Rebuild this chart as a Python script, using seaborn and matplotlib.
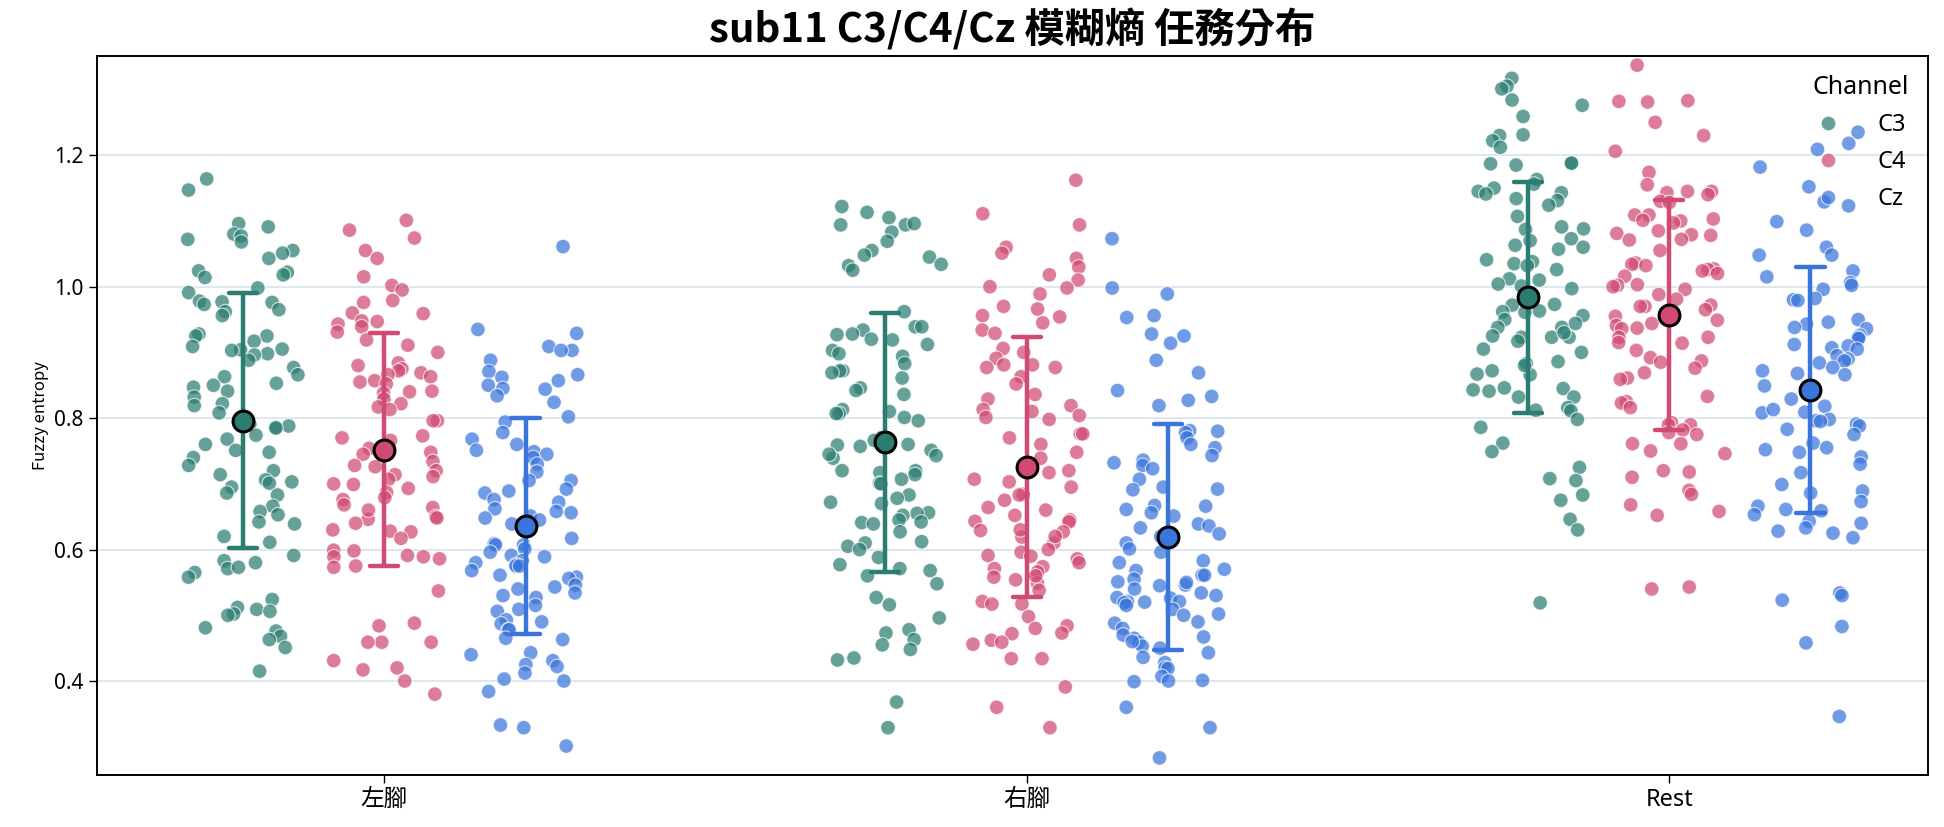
import numpy as np
import pandas as pd
import matplotlib
matplotlib.use("Agg")
import matplotlib.pyplot as plt
import seaborn as sns

# ---------------- data ----------------
tasks = ["左腳", "右腳", "Rest"]
channels = ["C3", "C4", "Cz"]

left_c3 = [1.164, 1.147, 1.096, 1.091, 1.080, 1.077, 1.072, 1.068, 1.055, 1.051, 1.043, 1.024,
           1.022, 1.018, 1.014, 0.998, 0.991, 0.978, 0.977, 0.973, 0.976, 0.965, 0.962, 0.956,
           0.928, 0.925, 0.925, 0.917, 0.909, 0.904, 0.903, 0.905, 0.898, 0.896, 0.888, 0.877,
           0.866, 0.863, 0.850, 0.853, 0.847, 0.841, 0.832, 0.822, 0.819, 0.808, 0.786, 0.788,
           0.785, 0.790, 0.774, 0.768, 0.760, 0.751, 0.748, 0.740, 0.728, 0.720, 0.714, 0.706,
           0.701, 0.703, 0.695, 0.686, 0.683, 0.666, 0.658, 0.653, 0.642, 0.639, 0.620, 0.611,
           0.591, 0.583, 0.580, 0.571, 0.573, 0.565, 0.558, 0.524, 0.512, 0.509, 0.506, 0.502,
           0.500, 0.481, 0.476, 0.468, 0.463, 0.451, 0.415]
left_c4 = [1.101, 1.086, 1.074, 1.055, 1.043, 1.015, 1.002, 0.995, 0.979, 0.976, 0.960, 0.959,
           0.948, 0.947, 0.943, 0.939, 0.931, 0.919, 0.911, 0.900, 0.884, 0.880, 0.875, 0.872,
           0.869, 0.866, 0.863, 0.857, 0.855, 0.852, 0.841, 0.840, 0.838, 0.829, 0.822, 0.817,
           0.813, 0.796, 0.796, 0.773, 0.770, 0.766, 0.754, 0.748, 0.745, 0.734, 0.728, 0.726,
           0.720, 0.714, 0.711, 0.707, 0.699, 0.693, 0.687, 0.679, 0.676, 0.668, 0.664, 0.650,
           0.648, 0.646, 0.630, 0.628, 0.627, 0.617, 0.599, 0.598, 0.591, 0.589, 0.589, 0.586,
           0.575, 0.573, 0.537, 0.488, 0.484, 0.459, 0.459, 0.459, 0.431, 0.420, 0.417, 0.400,
           0.380, 0.660, 0.640, 0.700]
left_cz = [1.061, 0.935, 0.929, 0.909, 0.903, 0.903, 0.888, 0.871, 0.866, 0.862, 0.857, 0.850,
           0.845, 0.844, 0.834, 0.824, 0.802, 0.794, 0.778, 0.768, 0.760, 0.751, 0.749, 0.745,
           0.740, 0.730, 0.718, 0.705, 0.705, 0.692, 0.689, 0.686, 0.676, 0.672, 0.662, 0.658,
           0.656, 0.651, 0.648, 0.645, 0.639, 0.617, 0.609, 0.607, 0.607, 0.601, 0.596, 0.591,
           0.589, 0.583, 0.580, 0.577, 0.575, 0.575, 0.568, 0.561, 0.558, 0.556, 0.546, 0.543,
           0.540, 0.534, 0.530, 0.527, 0.515, 0.509, 0.506, 0.493, 0.490, 0.487, 0.478, 0.478,
           0.465, 0.463, 0.443, 0.440, 0.431, 0.425, 0.422, 0.412, 0.403, 0.400, 0.384, 0.333,
           0.329, 0.301]
right_c3 = [1.122, 1.113, 1.105, 1.094, 1.094, 1.096, 1.083, 1.069, 1.055, 1.048, 1.045, 1.034,
            1.032, 1.025, 0.962, 0.939, 0.939, 0.934, 0.928, 0.927, 0.920, 0.919, 0.912, 0.903,
            0.898, 0.894, 0.883, 0.872, 0.872, 0.869, 0.861, 0.846, 0.842, 0.836, 0.813, 0.810,
            0.807, 0.807, 0.801, 0.796, 0.770, 0.766, 0.760, 0.759, 0.757, 0.751, 0.743, 0.739,
            0.745, 0.720, 0.717, 0.714, 0.707, 0.701, 0.683, 0.678, 0.672, 0.670, 0.656, 0.655,
            0.652, 0.645, 0.642, 0.641, 0.639, 0.627, 0.612, 0.610, 0.605, 0.600, 0.588, 0.577,
            0.571, 0.568, 0.560, 0.548, 0.527, 0.516, 0.496, 0.478, 0.473, 0.463, 0.455, 0.448,
            0.435, 0.432, 0.368, 0.329, 0.700, 0.720]
right_c4 = [1.162, 1.111, 1.094, 1.060, 1.051, 1.043, 1.030, 1.018, 1.010, 1.000, 0.998, 0.989,
            0.970, 0.966, 0.956, 0.954, 0.945, 0.934, 0.929, 0.906, 0.900, 0.891, 0.881, 0.881,
            0.877, 0.877, 0.863, 0.852, 0.836, 0.829, 0.819, 0.813, 0.810, 0.804, 0.801, 0.798,
            0.776, 0.776, 0.770, 0.760, 0.748, 0.739, 0.720, 0.717, 0.707, 0.703, 0.695, 0.684,
            0.683, 0.675, 0.664, 0.660, 0.652, 0.645, 0.643, 0.642, 0.629, 0.627, 0.619, 0.610,
            0.596, 0.591, 0.586, 0.574, 0.571, 0.566, 0.558, 0.554, 0.549, 0.538, 0.521, 0.517,
            0.517, 0.498, 0.484, 0.480, 0.473, 0.472, 0.462, 0.459, 0.456, 0.434, 0.434, 0.391,
            0.360, 0.329, 0.620, 0.600, 0.580, 0.560, 0.630, 0.590]
right_cz = [1.073, 0.998, 0.989, 0.956, 0.953, 0.928, 0.925, 0.914, 0.888, 0.869, 0.842, 0.833,
            0.827, 0.819, 0.781, 0.780, 0.778, 0.770, 0.760, 0.755, 0.743, 0.736, 0.732, 0.728,
            0.723, 0.707, 0.695, 0.692, 0.691, 0.667, 0.666, 0.661, 0.656, 0.651, 0.639, 0.636,
            0.633, 0.624, 0.620, 0.610, 0.601, 0.596, 0.583, 0.580, 0.568, 0.561, 0.561, 0.555,
            0.551, 0.546, 0.534, 0.527, 0.526, 0.521, 0.521, 0.519, 0.515, 0.509, 0.502, 0.488,
            0.480, 0.465, 0.467, 0.459, 0.453, 0.450, 0.443, 0.436, 0.428, 0.420, 0.419, 0.407,
            0.401, 0.399, 0.400, 0.360, 0.329, 0.283, 0.570, 0.550, 0.540, 0.530, 0.520, 0.500,
            0.490, 0.470, 0.460, 0.545]
rest_c3 = [1.317, 1.305, 1.301, 1.284, 1.276, 1.259, 1.231, 1.230, 1.222, 1.212, 1.188, 1.188,
           1.187, 1.185, 1.163, 1.156, 1.150, 1.145, 1.143, 1.141, 1.134, 1.131, 1.124, 1.107,
           1.091, 1.088, 1.087, 1.073, 1.070, 1.063, 1.060, 1.057, 1.041, 1.038, 1.035, 1.032,
           1.026, 1.012, 1.010, 1.004, 1.001, 0.997, 0.973, 0.972, 0.962, 0.963, 0.961, 0.956,
           0.950, 0.944, 0.938, 0.938, 0.923, 0.925, 0.923, 0.923, 0.917, 0.905, 0.886, 0.883,
           0.872, 0.867, 0.866, 0.846, 0.845, 0.841, 0.843, 0.832, 0.832, 0.816, 0.812, 0.811,
           0.798, 0.786, 0.762, 0.749, 0.725, 0.708, 0.705, 0.683, 0.675, 0.646, 0.630, 0.519,
           0.930, 0.900, 0.880]
rest_c4 = [1.337, 1.283, 1.282, 1.281, 1.250, 1.230, 1.206, 1.174, 1.155, 1.145, 1.145, 1.143,
           1.140, 1.130, 1.128, 1.109, 1.109, 1.103, 1.100, 1.101, 1.097, 1.085, 1.081, 1.079,
           1.078, 1.072, 1.071, 1.055, 1.036, 1.034, 1.032, 1.027, 1.026, 1.024, 1.020, 1.016,
           1.003, 1.002, 1.000, 0.996, 0.988, 0.981, 0.972, 0.970, 0.970, 0.965, 0.955, 0.949,
           0.944, 0.941, 0.937, 0.936, 0.923, 0.923, 0.915, 0.914, 0.903, 0.892, 0.887, 0.885,
           0.876, 0.869, 0.861, 0.859, 0.833, 0.825, 0.823, 0.816, 0.793, 0.790, 0.790, 0.782,
           0.778, 0.775, 0.761, 0.761, 0.750, 0.746, 0.720, 0.718, 0.710, 0.690, 0.684, 0.668,
           0.658, 0.652, 0.540, 0.543]
rest_cz = [1.235, 1.218, 1.209, 1.182, 1.152, 1.129, 1.123, 1.099, 1.086, 1.060, 1.048, 1.048,
           1.024, 1.015, 1.006, 1.002, 0.996, 0.982, 0.980, 0.979, 0.950, 0.946, 0.943, 0.938,
           0.936, 0.926, 0.923, 0.921, 0.912, 0.910, 0.907, 0.905, 0.895, 0.890, 0.887, 0.884,
           0.877, 0.872, 0.868, 0.866, 0.849, 0.829, 0.818, 0.809, 0.808, 0.813, 0.798, 0.796,
           0.795, 0.791, 0.788, 0.783, 0.775, 0.762, 0.755, 0.752, 0.748, 0.741, 0.730, 0.717,
           0.699, 0.689, 0.686, 0.673, 0.666, 0.659, 0.661, 0.653, 0.643, 0.640, 0.633, 0.628,
           0.625, 0.618, 0.534, 0.523, 0.530, 0.483, 0.458, 0.346]

palette = {"C3": "#2b7d72", "C4": "#d04a72", "Cz": "#3a75db"}
DODGE = 0.22

series = {
    ("左腳", "C3"): left_c3, ("左腳", "C4"): left_c4, ("左腳", "Cz"): left_cz,
    ("右腳", "C3"): right_c3, ("右腳", "C4"): right_c4, ("右腳", "Cz"): right_cz,
    ("Rest", "C3"): rest_c3, ("Rest", "C4"): rest_c4, ("Rest", "Cz"): rest_cz,
}
rows = []
for (task, ch), vals in series.items():
    for v in vals:
        rows.append({"Task": task, "Channel": ch, "Value": v})
df = pd.DataFrame(rows)
df["pos"] = (df["Task"].map({t: i for i, t in enumerate(tasks)})
             + df["Channel"].map({c: (j - 1) * DODGE for j, c in enumerate(channels)})).round(4)

# ---------------- style ----------------
sns.set_theme(style="ticks")
plt.rcParams["font.family"] = ["Noto Sans", "Noto Sans CJK TC", "DejaVu Sans"]
plt.rcParams["axes.unicode_minus"] = False
plt.rcParams["text.color"] = "black"
plt.rcParams["axes.labelcolor"] = "black"

np.random.seed(11)
fig, ax = plt.subplots(figsize=(19.44, 8.27), dpi=100)
fig.subplots_adjust(left=0.0499, right=0.9918, top=0.9323, bottom=0.0629)

sns.stripplot(data=df, x="pos", y="Value", hue="Channel", hue_order=channels,
              palette=palette, native_scale=True, jitter=0.40, size=10.5,
              alpha=0.72, edgecolor="white", linewidth=0.8, ax=ax, zorder=2)

sns.pointplot(data=df, x="pos", y="Value", hue="Channel", hue_order=channels,
              palette=palette, native_scale=True, errorbar="sd", capsize=0.2,
              linestyle="none", markers="o", markersize=15, markeredgewidth=2.2,
              err_kws={"linewidth": 3.2}, legend=False, ax=ax)
for ln in ax.lines:
    if ln.get_marker() == "o":
        ln.set_markeredgecolor("black")
        ln.set_zorder(5)
    else:
        ln.set_zorder(4)

ax.set_xlim(-0.447, 2.403)
ax.set_ylim(0.257, 1.351)
ax.set_xticks(range(len(tasks)))
ax.set_xticklabels(tasks)
ax.set_yticks([0.4, 0.6, 0.8, 1.0, 1.2])
ax.set_yticklabels(["0.4", "0.6", "0.8", "1.0", "1.2"])
ax.tick_params(axis="both", length=6, width=1, colors="black")
ax.tick_params(axis="x", labelsize=17)
ax.tick_params(axis="y", labelsize=15)
ax.yaxis.grid(True, color="#dbe5ef", linewidth=1.3)
ax.xaxis.grid(False)
ax.set_axisbelow(True)
for sp in ax.spines.values():
    sp.set_visible(True)
    sp.set_color("black")
    sp.set_linewidth(1.4)

ax.set_xlabel("")
ax.set_ylabel("Fuzzy entropy", fontsize=12, family=["Noto Sans CJK TC", "DejaVu Sans"])
ax.set_title("sub11 C3/C4/Cz 模糊熵 任務分布", fontsize=29, fontweight="bold", pad=10,
             family=["Noto Sans CJK TC", "DejaVu Sans"], color="black")

sns.move_legend(ax, "upper right", frameon=False, title="Channel",
                fontsize=17, title_fontsize=18, markerscale=1.0,
                handlelength=1.0, handletextpad=1.6, labelspacing=0.55,
                borderaxespad=0.4)

fig.savefig("out.png", dpi=100)
